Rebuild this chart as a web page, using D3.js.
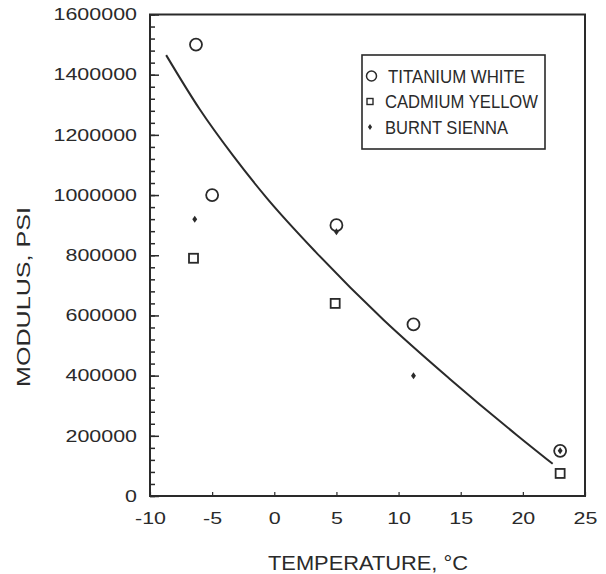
<!DOCTYPE html>
<html>
<head>
<meta charset="utf-8">
<script src="https://cdn.jsdelivr.net/npm/d3@7"></script>
<style>
	body { margin: 0; background: #fff; }
	svg text { font-family: 'Liberation Sans', Arial, sans-serif; fill: #2a2a2a; }
</style>
</head>
<body>
<svg id="chart"></svg>
<script>

// Titanium white (circles)
const titaniumTemp = [-6.3, -5, 5, 11.2, 23];
const titaniumModulus = [1500000, 1000000, 900000, 570000, 150000];

// Cadmium yellow (squares)
const cadmiumTemp = [-6.5, 4.9, 23];
const cadmiumModulus = [790000, 640000, 75000];

// Burnt sienna (small diamonds)
const siennaTemp = [-6.4, 5, 11.2, 23];
const siennaModulus = [920000, 878000, 400000, 150000];

// fitted curve
const curveTemp = [-8.7, -6.0, -3.3, -0.6, 3.4, 8.8, 14.1, 19.5, 22.4];
const curveModulus = [1465000, 1285000, 1130000, 990000, 808000, 585000, 390000, 203000, 107000];

const xTicks = [-10, -5, 0, 5, 10, 15, 20, 25];
const yTicks = [0, 200000, 400000, 600000, 800000, 1000000, 1200000, 1400000, 1600000];

const legendLabels = ['TITANIUM WHITE', 'CADMIUM YELLOW', 'BURNT SIENNA'];

const config = {
	containerWidth: 606,
	containerHeight: 574,
	margin: {top: 14.5, right: 21, bottom: 78, left: 150}
};

const width = config.containerWidth - config.margin.left - config.margin.right;
const height = config.containerHeight - config.margin.top - config.margin.bottom;
const ink = '#2a2a2a';

const svg = d3.select('#chart')
	.attr('width', config.containerWidth)
	.attr('height', config.containerHeight);

const chart = svg.append('g')
	.attr('transform', `translate(${config.margin.left},${config.margin.top})`);

const xScale = d3.scaleLinear()
	.domain([-10, 25])
	.range([0, width]);

const yScale = d3.scaleLinear()
	.domain([0, 1600000])
	.range([height, 0]);

// minor ticks first, majors drawn over them
chart.append('g')
	.attr('class', 'axis y-minor')
	.call(d3.axisLeft(yScale)
		.tickValues(d3.range(0, 1600001, 40000))
		.tickSizeInner(-5)
		.tickSizeOuter(0)
		.tickFormat(''));

const yAxisG = chart.append('g')
	.attr('class', 'axis y-axis')
	.call(d3.axisLeft(yScale)
		.tickValues(yTicks)
		.tickSizeInner(-9)
		.tickSizeOuter(0)
		.tickPadding(10)
		.tickFormat(d => String(d)));

const xAxisG = chart.append('g')
	.attr('class', 'axis x-axis')
	.attr('transform', `translate(0,${height})`)
	.call(d3.axisBottom(xScale)
		.tickValues(xTicks)
		.tickSizeInner(-4)
		.tickSizeOuter(0)
		.tickPadding(16)
		.tickFormat(d => String(d)));

chart.selectAll('.axis .domain').remove();
chart.selectAll('.axis line')
	.attr('stroke', ink)
	.attr('stroke-width', 1.5);
chart.selectAll('.x-axis line').attr('stroke-width', 1.2);

// scanned lettering is wider than Arial, so stretch it sideways
yAxisG.selectAll('text')
	.attr('font-size', 16.5)
	.attr('font-family', null)
	.attr('x', -10)
	.attr('transform', 'scale(1.3,1)');

xAxisG.selectAll('text')
	.attr('font-size', 16.5)
	.attr('font-family', null)
	.attr('transform', 'scale(1.3,1)');

// frame
chart.append('rect')
	.attr('width', width)
	.attr('height', height)
	.attr('fill', 'none')
	.attr('stroke', ink)
	.attr('stroke-width', 2);

// fitted curve
const line = d3.line()
	.x(i => xScale(curveTemp[i]))
	.y(i => yScale(curveModulus[i]))
	.curve(d3.curveMonotoneX);

chart.append('path')
	.attr('d', line(d3.range(curveTemp.length)))
	.attr('fill', 'none')
	.attr('stroke', ink)
	.attr('stroke-width', 2);

// markers
const diamond = s => `M0,${-s} L${s * 0.7},0 L0,${s} L${-s * 0.7},0 Z`;

chart.selectAll('.titanium')
	.data(d3.range(titaniumTemp.length))
	.join('circle')
	.attr('class', 'titanium')
	.attr('cx', i => xScale(titaniumTemp[i]))
	.attr('cy', i => yScale(titaniumModulus[i]))
	.attr('r', 6)
	.attr('fill', 'none')
	.attr('stroke', ink)
	.attr('stroke-width', 1.8);

chart.selectAll('.cadmium')
	.data(d3.range(cadmiumTemp.length))
	.join('rect')
	.attr('class', 'cadmium')
	.attr('x', i => xScale(cadmiumTemp[i]) - 4.5)
	.attr('y', i => yScale(cadmiumModulus[i]) - 4.5)
	.attr('width', 9)
	.attr('height', 9)
	.attr('fill', 'none')
	.attr('stroke', ink)
	.attr('stroke-width', 1.8);

chart.selectAll('.sienna')
	.data(d3.range(siennaTemp.length))
	.join('path')
	.attr('class', 'sienna')
	.attr('transform', i => `translate(${xScale(siennaTemp[i])},${yScale(siennaModulus[i])})`)
	.attr('d', diamond(3.5))
	.attr('fill', ink);

// legend
const legend = chart.append('g')
	.attr('transform', `translate(${362 - config.margin.left},${55 - config.margin.top})`);

legend.append('rect')
	.attr('width', 183)
	.attr('height', 94)
	.attr('fill', '#fff')
	.attr('stroke', ink)
	.attr('stroke-width', 1.6);

const legendWidths = [137, 153, 123];
const rowY = i => 21 + i * 25.5;

legend.append('circle')
	.attr('cx', 9.5)
	.attr('cy', rowY(0))
	.attr('r', 5)
	.attr('fill', 'none')
	.attr('stroke', ink)
	.attr('stroke-width', 1.5);

legend.append('rect')
	.attr('x', 5)
	.attr('y', rowY(1) - 3)
	.attr('width', 6)
	.attr('height', 6)
	.attr('fill', 'none')
	.attr('stroke', ink)
	.attr('stroke-width', 1.4);

legend.append('path')
	.attr('transform', `translate(8,${rowY(2)})`)
	.attr('d', diamond(3))
	.attr('fill', ink);

legend.selectAll('.legend-label')
	.data(legendLabels)
	.join('text')
	.attr('class', 'legend-label')
	.attr('x', (d, i) => i === 0 ? 26 : 23)
	.attr('y', (d, i) => rowY(i) + 6.5)
	.attr('font-size', 18)
	.attr('textLength', (d, i) => legendWidths[i])
	.attr('lengthAdjust', 'spacingAndGlyphs')
	.text(d => d);

// axis titles
svg.append('text')
	.attr('x', 368)
	.attr('y', 570)
	.attr('text-anchor', 'middle')
	.attr('font-size', 20)
	.attr('textLength', 200)
	.attr('lengthAdjust', 'spacingAndGlyphs')
	.text('TEMPERATURE, °C');

svg.append('text')
	.attr('transform', 'translate(30,297) rotate(-90)')
	.attr('text-anchor', 'middle')
	.attr('font-size', 19)
	.attr('textLength', 180)
	.attr('lengthAdjust', 'spacingAndGlyphs')
	.text('MODULUS, PSI');

</script>
</body>
</html>
